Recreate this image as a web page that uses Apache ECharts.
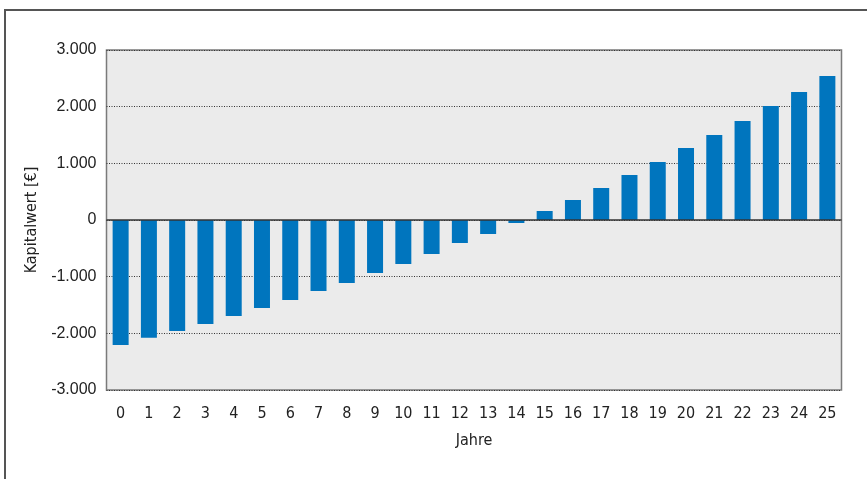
<!DOCTYPE html>
<html>
<head>
<meta charset="utf-8">
<script src="https://cdn.jsdelivr.net/npm/echarts@6/dist/echarts.min.js"></script>
<style>
  html, body { margin: 0; padding: 0; background: #ffffff; }
  #chart { width: 867px; height: 479px; }
</style>
</head>
<body>
<div id="chart"></div>
<script>
// Years of the investment horizon
const jahre = ['0','1','2','3','4','5','6','7','8','9','10','11','12','13','14','15','16','17','18','19','20','21','22','23','24','25'];
// Net present value (Kapitalwert) per year in €
const kapitalwert = [-2205, -2080, -1960, -1835, -1695, -1555, -1410, -1255, -1110, -935, -776, -600, -406, -247, -53,
  159, 353, 565, 794, 1023, 1270, 1500, 1747, 2010, 2259, 2540];

const FONT = '"Liberation Sans Narrow", "DejaVu Sans Condensed", "Liberation Sans", sans-serif';

function fmtThousands(v) {
  const neg = v < 0;
  const s = Math.abs(v).toString().replace(/\B(?=(\d{3})+(?!\d))/g, '.');
  return (neg ? '-' : '') + s;
}

const chart = echarts.init(document.getElementById('chart'), null, { renderer: 'canvas' });

chart.setOption({
  animation: false,
  backgroundColor: '#ffffff',
  graphic: [
    {
      type: 'polyline',
      shape: { points: [[5, 479], [5, 10], [867, 10]] },
      style: { stroke: '#555555', lineWidth: 2, fill: null },
      silent: true
    }
  ],
  grid: {
    left: 106.5,
    top: 50,
    right: 25.5,
    bottom: 89,
    show: true,
    backgroundColor: '#ebebeb',
    borderColor: '#7a7a7a',
    borderWidth: 1.5
  },
  xAxis: {
    type: 'category',
    data: jahre,
    name: 'Jahre',
    nameLocation: 'middle',
    nameGap: 43,
    nameTextStyle: { fontFamily: FONT, fontSize: 16, color: '#222' },
    axisLine: { show: false },
    axisTick: { show: false },
    axisLabel: { fontFamily: FONT, fontSize: 16, color: '#222', margin: 16 },
    splitLine: { show: false }
  },
  yAxis: {
    type: 'value',
    min: -3000,
    max: 3000,
    interval: 1000,
    name: 'Kapitalwert [€]',
    nameLocation: 'middle',
    nameGap: 67,
    nameRotate: 90,
    nameTextStyle: { fontFamily: FONT, fontSize: 16, color: '#222' },
    axisLine: { show: false },
    axisTick: { show: false },
    axisLabel: {
      fontFamily: '"Liberation Sans", Arial, sans-serif',
      fontSize: 16,
      color: '#222',
      margin: 10,
      formatter: fmtThousands
    },
    splitLine: {
      show: true,
      lineStyle: { color: '#333333', width: 1, type: [1, 1.5] }
    }
  },
  series: [
    {
      type: 'bar',
      data: kapitalwert,
      barWidth: 16,
      itemStyle: { color: '#0075be' },
      markLine: {
        silent: true,
        symbol: 'none',
        label: { show: false },
        lineStyle: { color: '#333333', width: 1.5, type: 'solid' },
        data: [{ yAxis: 0 }]
      }
    }
  ]
});
</script>
</body>
</html>
